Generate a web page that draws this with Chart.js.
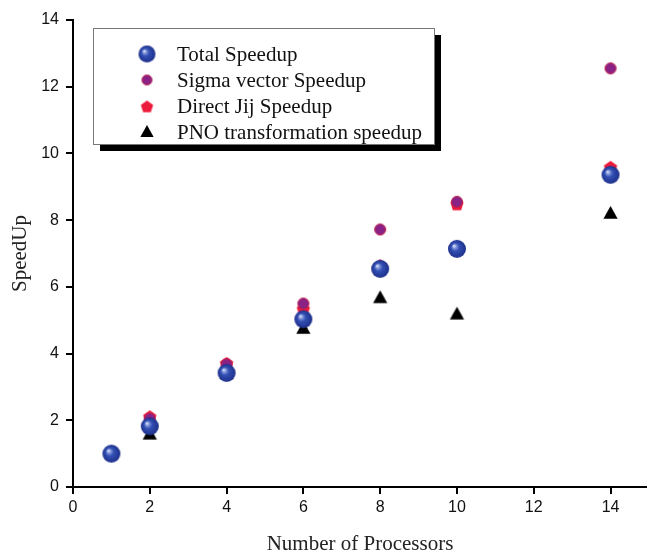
<!DOCTYPE html>
<html>
<head>
<meta charset="utf-8">
<script src="https://cdn.jsdelivr.net/npm/chart.js@4/dist/chart.umd.min.js"></script>
<style>
  html, body { margin: 0; padding: 0; background: #fff; }
  #wrap { width: 647px; height: 552px; }
</style>
</head>
<body>
<div id="wrap"><canvas id="speedupChart"></canvas></div>
<script>
// --- data ---
const processors = [1, 2, 4, 6, 8, 10, 14];
const totalSpeedup = [1.0, 1.82, 3.42, 5.03, 6.54, 7.14, 9.36];
const sigmaSpeedup = [1.0, 2.05, 3.68, 5.5, 7.72, 8.55, 12.55];
const directJijSpeedup = [1.0, 2.12, 3.72, 5.35, 6.65, 8.5, 9.6];
const pnoSpeedup = [1.0, 1.58, 3.4, 4.75, 5.67, 5.18, 8.2];
const seriesLabels = [
  'Total Speedup',
  'Sigma vector Speedup',
  'Direct Jij Speedup',
  'PNO transformation speedup',
];
const xTicks = [0, 2, 4, 6, 8, 10, 12, 14];

// --- marker images ---
function canvasOf(size, draw) {
  const c = document.createElement('canvas');
  c.width = size;
  c.height = size;
  draw(c.getContext('2d'), size / 2);
  return c;
}
function ball(r) {
  return canvasOf(Math.ceil(r * 2 + 2), (ctx, m) => {
    const g = ctx.createRadialGradient(m - r * 0.35, m - r * 0.35, 0, m, m, r);
    g.addColorStop(0, '#ffffff');
    g.addColorStop(0.18, '#8ea2e0');
    g.addColorStop(0.45, '#3350b4');
    g.addColorStop(1, '#1d2f8a');
    ctx.fillStyle = g;
    ctx.beginPath();
    ctx.arc(m, m, r, 0, Math.PI * 2);
    ctx.fill();
  });
}
function dot(r) {
  return canvasOf(Math.ceil(r * 2 + 2), (ctx, m) => {
    ctx.fillStyle = '#8a2185';
    ctx.strokeStyle = '#c0204a';
    ctx.lineWidth = 1;
    ctx.beginPath();
    ctx.arc(m, m, r - 0.5, 0, Math.PI * 2);
    ctx.fill();
    ctx.stroke();
  });
}
function pentagon(r) {
  return canvasOf(Math.ceil(r * 2 + 2), (ctx, m) => {
    ctx.fillStyle = '#ec1a3a';
    ctx.beginPath();
    for (let i = 0; i < 5; i++) {
      const a = -Math.PI / 2 + (i * 2 * Math.PI) / 5;
      const px = m + r * Math.cos(a);
      const py = m + 1 + r * Math.sin(a);
      i ? ctx.lineTo(px, py) : ctx.moveTo(px, py);
    }
    ctx.closePath();
    ctx.fill();
  });
}
function triangle(r) {
  return canvasOf(Math.ceil(r * 2 + 2), (ctx, m) => {
    ctx.fillStyle = '#000';
    ctx.beginPath();
    ctx.moveTo(m, m - r);
    ctx.lineTo(m + r * 0.95, m + r * 0.7);
    ctx.lineTo(m - r * 0.95, m + r * 0.7);
    ctx.closePath();
    ctx.fill();
  });
}

const markers = [ball(9), dot(6), pentagon(7), triangle(7.5)];
const legendMarkers = [ball(8.5), dot(5.5), pentagon(6.5), triangle(7)];
const seriesValues = [totalSpeedup, sigmaSpeedup, directJijSpeedup, pnoSpeedup];

// --- legend box with drop shadow ---
const boxLegend = {
  id: 'boxLegend',
  afterDraw(chart) {
    const ctx = chart.ctx;
    const x = 93, y = 28, w = 341, h = 116;
    ctx.save();
    ctx.fillStyle = '#000';
    ctx.fillRect(x + 7, y + 7, w, h);
    ctx.fillStyle = '#fff';
    ctx.fillRect(x, y, w, h);
    ctx.strokeStyle = '#777';
    ctx.lineWidth = 1;
    ctx.strokeRect(x + 0.5, y + 0.5, w, h);
    ctx.font = '21px "Liberation Serif", "Times New Roman", serif';
    ctx.textBaseline = 'middle';
    ctx.fillStyle = '#111';
    const rows = [54, 80, 106, 132];
    seriesLabels.forEach((label, i) => {
      const img = legendMarkers[i];
      ctx.drawImage(img, 147 - img.width / 2, rows[i] - img.height / 2);
      ctx.fillText(label, 177, rows[i] + 1);
    });
    ctx.restore();
  },
};

new Chart(document.getElementById('speedupChart'), {
  type: 'scatter',
  data: {
    datasets: seriesLabels.map((label, i) => ({
      label: label,
      data: processors.map((p, j) => ({ x: p, y: seriesValues[i][j] })),
      pointStyle: markers[i],
      pointRadius: 8,
      pointHoverRadius: 8,
    })),
  },
  options: {
    responsive: true,
    maintainAspectRatio: false,
    animation: false,
    layout: { autoPadding: false, padding: { top: 20, right: 0, left: 0, bottom: 0 } },
    plugins: {
      legend: { display: false },
      tooltip: { enabled: false },
    },
    scales: {
      x: {
        type: 'linear',
        min: 0,
        max: 14.95,
        afterBuildTicks: (s) => {
          s.ticks = xTicks.map((v) => ({ value: v }));
        },
        afterFit: (s) => { s.height = 65; },
        ticks: {
          color: '#111',
          padding: 4,
          maxRotation: 0,
          font: { family: '"Liberation Sans", Arial, sans-serif', size: 16 },
        },
        grid: { drawOnChartArea: false, tickLength: 7, color: '#000', lineWidth: 2 },
        border: { color: '#000', width: 2 },
        title: {
          display: true,
          text: 'Number of Processors',
          color: '#222',
          padding: { top: 4, bottom: -5 },
          font: { family: '"Liberation Serif", "Times New Roman", serif', size: 21 },
        },
      },
      y: {
        min: 0,
        max: 14,
        afterFit: (s) => { s.width = 73; },
        ticks: {
          stepSize: 2,
          color: '#111',
          padding: 7,
          font: { family: '"Liberation Sans", Arial, sans-serif', size: 16 },
        },
        grid: { drawOnChartArea: false, tickLength: 7, color: '#000', lineWidth: 2 },
        border: { color: '#000', width: 2 },
        title: {
          display: true,
          text: 'SpeedUp',
          color: '#222',
          padding: { top: 8, bottom: 0 },
          font: { family: '"Liberation Serif", "Times New Roman", serif', size: 21 },
        },
      },
    },
  },
  plugins: [boxLegend],
});
</script>
</body>
</html>
